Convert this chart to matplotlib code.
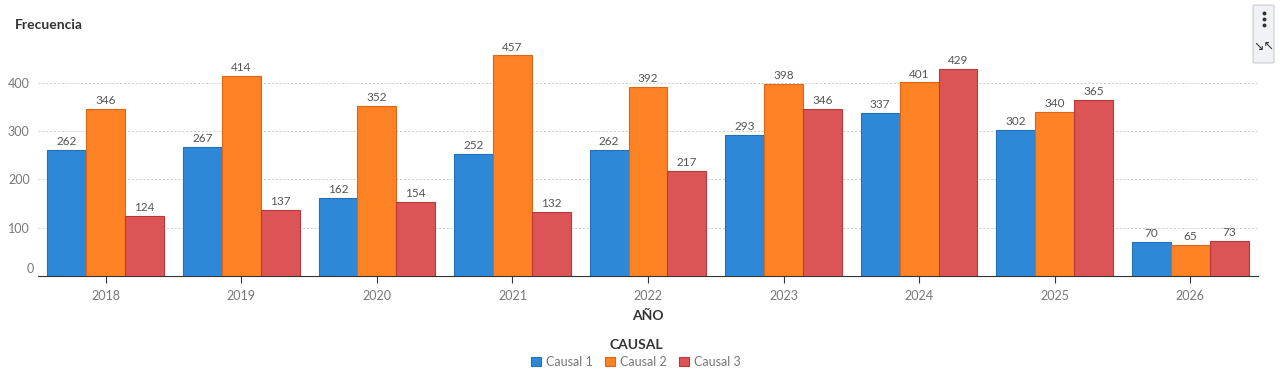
import matplotlib
matplotlib.use("Agg")
from matplotlib import pyplot as plt
from matplotlib.patches import FancyBboxPatch
import numpy as np

plt.rcParams['font.family'] = ['Lato', 'DejaVu Sans']

years = ['2018', '2019', '2020', '2021', '2022', '2023', '2024', '2025', '2026']
causal1 = [262, 267, 162, 252, 262, 293, 337, 302, 70]
causal2 = [346, 414, 352, 457, 392, 398, 401, 340, 65]
causal3 = [124, 137, 154, 132, 217, 346, 429, 365, 73]
series_names = ['Causal 1', 'Causal 2', 'Causal 3']
colors = ['#2d89d8', '#ff8224', '#dd5456']
edges = ['#2470b4', '#d9661a', '#b8393c']

W, H = 1280, 380
fig = plt.figure(figsize=(W / 100, H / 100), dpi=100)
ax = fig.add_axes([38 / W, 1 - 276 / H, 1220 / W, 236 / H])

x = np.arange(len(years))
bw = 0.287
for i, (vals, c, ec) in enumerate(zip([causal1, causal2, causal3], colors, edges)):
    pos = x + (i - 1) * bw
    ax.bar(pos, vals, width=bw, color=c, edgecolor=ec, linewidth=0.8, label=series_names[i], zorder=3)
    for p, v in zip(pos, vals):
        ax.text(p, v + 6, str(v), ha='center', va='bottom', fontsize=8.5, color='#555555', zorder=4)

ax.set_xlim(-0.5, 8.5)
ax.set_ylim(0, 489)
ax.set_yticks([100, 200, 300, 400])
ax.set_yticklabels(['100', '200', '300', '400'])
ax.grid(axis='y', color='#cccccc', linestyle=(0, (2, 2)), linewidth=0.7, zorder=0)
ax.tick_params(axis='y', length=0, labelsize=9, labelcolor='#777777', pad=6)
ax.text(-0.53, 2, '0', ha='right', va='bottom', fontsize=9, color='#777777', transform=ax.transData)
ax.set_xticks(x)
ax.set_xticklabels(years)
ax.tick_params(axis='x', length=5, color='#333333', labelsize=9, labelcolor='#777777', pad=5)
for s in ['top', 'right', 'left']:
    ax.spines[s].set_visible(False)
ax.spines['bottom'].set_color('#333333')

fig.text(15 / W, 1 - 25 / H, 'Frecuencia', fontsize=10, fontweight='bold', color='#333333', va='center')
fig.text(648 / W, 1 - 316 / H, 'AÑO', fontsize=10, fontweight='bold', color='#333333', ha='center', va='center')
fig.text(636 / W, 1 - 345 / H, 'CAUSAL', fontsize=10, fontweight='bold', color='#333333', ha='center', va='center')
leg = fig.legend(loc='center', bbox_to_anchor=(636 / W, 1 - 362 / H), ncol=3, frameon=False,
                 fontsize=9, handlelength=0.8, handleheight=0.8, handletextpad=0.4, columnspacing=1.0)
for t in leg.get_texts():
    t.set_color('#777777')

# toolbar box top right
box = FancyBboxPatch((1253 / W, 1 - 63 / H), 21 / W, 58 / H, boxstyle='round,pad=0,rounding_size=0.002',
                     transform=fig.transFigure, facecolor='#f0f2f5', edgecolor='#c8ccd2', linewidth=0.8)
fig.patches.append(box)
for yy in [12.5, 18.5, 24.5]:
    fig.lines.append(plt.Line2D([1264 / W], [1 - yy / H], marker='o', markersize=1.8, color='#333333',
                                transform=fig.transFigure))
fig.text(1264 / W, 1 - 47 / H, '↘↖', fontsize=9, color='#333333', ha='center', va='center', family='DejaVu Sans')

fig.savefig('out.png', dpi=100)
